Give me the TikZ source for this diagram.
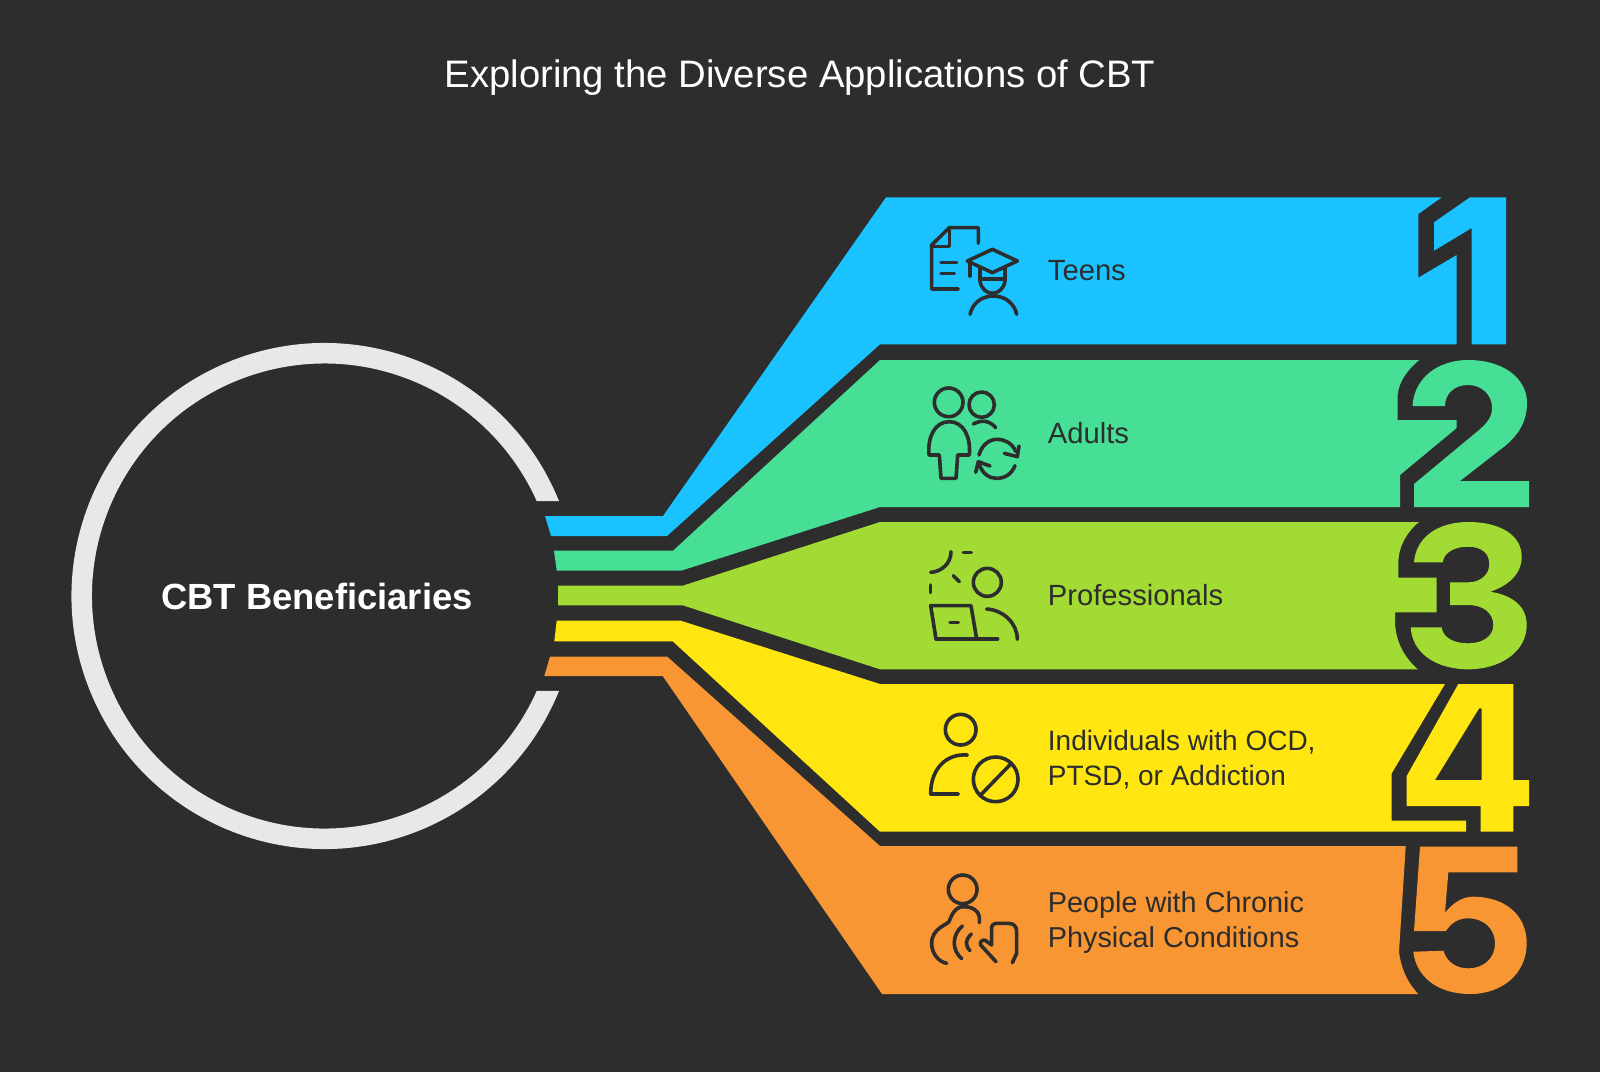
\documentclass[tikz,border=0pt]{standalone}
\usepackage{fontspec}
\setmainfont{Liberation Sans}
\definecolor{bg}{HTML}{2D2D2D}
\definecolor{ringc}{HTML}{E8E8E8}
\definecolor{cblue}{HTML}{1AC3FF}
\definecolor{cgreen}{HTML}{46DF95}
\definecolor{clime}{HTML}{A3DB35}
\definecolor{cyel}{HTML}{FFE610}
\definecolor{corg}{HTML}{F79632}
\tikzset{
  icon/.style={draw=bg,line width=1.8pt,line cap=round,line join=round},
  label/.style={text=bg,anchor=west,font=\fontsize{14.6}{17.4}\selectfont,align=left,inner sep=0pt},
  zoomed/.style={x=0.16667pt,y=-0.16667pt},
}
\begin{document}
\begin{tikzpicture}[x=0.5pt,y=-0.5pt]
\useasboundingbox (0,0) rectangle (1600,1072);
\fill[bg] (0,0) rectangle (1600,1072);

\node[text=white,font=\fontsize{19.15}{23}\selectfont,inner sep=0pt] (title) at (800,78) {Exploring the Diverse Applications of CBT};

% ring
\begin{scope}[shift={(324.5,596)},x=0.5pt,y=0.5pt]
\coordinate (ringc) at (0,0);
\fill[ringc] (22.05:253) arc (22.05:337.95:253) -- (335.9:232.5) arc (335.9:24.1:232.5) -- cycle;
\end{scope}
\node[text=white,font=\fontsize{18.2}{21}\bfseries\selectfont,inner sep=0pt] (cbt) at (317,596) {CBT Beneficiaries};

% band 1
\fill[cblue] (545,516) -- (663,516) -- (886,197.3) -- (1441.7,197.3) -- (1418.3,214) -- (1418.3,277.7) -- (1456.7,255) -- (1456.7,344.3) -- (880,344.3) -- (667,536) -- (551,536) -- cycle;
\fill[cblue] (1470,197.3) -- (1506,197.3) -- (1506,344.3) -- (1471.7,344.3) -- (1471.7,228) -- (1434,250.7) -- (1434,222.3) -- cycle;

% band 2
\fill[cgreen] (554,550.7) -- (673,550.7) -- (880,360) -- (1419.3,360) .. controls (1405,372) and (1397,385) .. (1397.5,400) -- (1397.5,420) -- (1456.7,420) -- (1456.7,428) -- (1400,475) -- (1400,507) -- (880,507) -- (681,570.7) -- (556.7,570.7) -- cycle;
\fill[cgreen] (1412.5,406) .. controls (1414,378) and (1438,360) .. (1468,360) .. controls (1503,360) and (1527,378) .. (1527,403) .. controls (1527,423) and (1517,436) .. (1505,446) -- (1460,481) -- (1529,481) -- (1529,507) -- (1414,507) -- (1414,484) -- (1479,430) .. controls (1487,423) and (1492,417) .. (1492,408) .. controls (1492,394) and (1481,385) .. (1468,385) .. controls (1454,385) and (1445,394) .. (1445,406) -- cycle;

% band 3
\fill[clime] (558,585.7) -- (682.7,585.7) -- (880,522) -- (1419,522) .. controls (1406,533) and (1398.3,547) .. (1398.3,563.3) -- (1398.3,577.7) -- (1436.7,577.7) -- (1436.7,612.3) -- (1395,612.3) -- (1395,623) .. controls (1396,642) and (1404,657) .. (1417.7,669.3) -- (880,669.3) -- (682.7,605.3) -- (558,605.3) -- cycle;
\fill[clime] (1414,562.3) .. controls (1416,537) and (1438,522) .. (1468.3,522) .. controls (1500,522) and (1521.7,535) .. (1521.7,556.7) .. controls (1521.7,574) and (1508,586) .. (1490,591.7) .. controls (1512,595) and (1526.7,606) .. (1526.7,625) .. controls (1526.7,652) and (1500,669.3) .. (1468.3,669.3) .. controls (1436,669.3) and (1412,653) .. (1410.7,627.3) -- (1441.7,627.3) .. controls (1443,638) and (1454,643.3) .. (1468.3,643.3) .. controls (1483,643.3) and (1493.3,636) .. (1493.3,625) .. controls (1493.3,613) and (1483,605) .. (1468.3,605) -- (1450,605) -- (1450,582.3) -- (1468.3,582.3) .. controls (1480,582.3) and (1489.3,575) .. (1489.3,564) .. controls (1489.3,553) and (1481,546.7) .. (1468.3,546.7) .. controls (1455,546.7) and (1444,552) .. (1442.7,562.3) -- cycle;

% band 4
\fill[cyel] (556.7,620.7) -- (680.7,620.7) -- (880,684) -- (1445,684) -- (1391.7,773.3) -- (1391.7,820.7) -- (1466,820.7) -- (1466,831.7) -- (880,831.7) -- (672.7,641.3) -- (554.3,641.3) -- cycle;
\fill[cyel,even odd rule] (1458.3,684) -- (1513.3,684) -- (1513.3,780) -- (1529,780) -- (1529,806) -- (1513.3,806) -- (1513.3,831.7) -- (1480.7,831.7) -- (1480.7,806) -- (1406.7,806) -- (1406.7,776) -- cycle
  (1479,708.5) -- (1481.7,708.3) -- (1481.7,780) -- (1435,780) -- cycle;

% band 5
\fill[corg] (550,656.7) -- (667.3,656.7) -- (880,846) -- (1405.7,846) -- (1399,951.7) .. controls (1401,968) and (1407,982) .. (1418.3,994) -- (882,994) -- (662.7,676) -- (544.3,676) -- cycle;
\fill[corg] (1420,846.7) -- (1517.3,846.7) -- (1517.3,872.3) -- (1448.3,872.3) -- (1445,912.7) .. controls (1453,903) and (1462,896.7) .. (1473,896.7) .. controls (1505,896.7) and (1526.7,915) .. (1526.7,943.3) .. controls (1526.7,973) and (1503,994) .. (1470,994) .. controls (1438,994) and (1416,977) .. (1413.3,951.7) -- (1443.3,950.7) .. controls (1447,962) and (1456,968.3) .. (1468.3,968.3) .. controls (1484,968.3) and (1495,958) .. (1495,943.3) .. controls (1495,929) and (1484,918.3) .. (1468.3,918.3) .. controls (1458,918.3) and (1451,923) .. (1446,931) -- (1414,931) -- cycle;

% labels
\node[label] (teens) at (1047.5,271) {Teens};
\node[label] (adults) at (1047.5,433) {Adults};
\node[label] (prof) at (1047.5,595) {Professionals};
\node[label,font=\fontsize{14}{17.4}\selectfont] (indiv) at (1047.5,759.5) {Individuals with OCD,\\PTSD, or Addiction};
\node[label,font=\fontsize{14.4}{17.4}\selectfont] (people) at (1047.5,922.5) {People with Chronic\\Physical Conditions};

% icon 1
\begin{scope}[shift={(910,210)},zoomed]
\draw[icon] (205,100) -- (205,53) -- (118,53) -- (65,105) -- (65,237) -- (145,237);
\draw[icon] (118,53) -- (118,110) -- (65,110);
\draw[icon] (93,157) -- (140,157) (93,190) -- (133,190);
\draw[icon] (172,153) -- (247,118) -- (322,153) -- (247,188) -- cycle;
\draw[icon] (180,153) -- (180,198);
\draw[icon] (210,175) -- (210,212) .. controls (212,235) and (230,250) .. (247,250) .. controls (265,250) and (283,235) .. (285,212) -- (285,175);
\draw[icon] (210,207) -- (285,207);
\draw[icon] (180,313) .. controls (187,280) and (215,258) .. (250,258) .. controls (285,258) and (313,280) .. (320,313);
% icon 2
\draw[icon] (116,577) circle[radius=43];
\draw[icon] (215,584) circle[radius=38];
\draw[icon] (190,642) .. controls (215,628) and (240,632) .. (257,653);
\draw[icon] (57,735) .. controls (52,680) and (75,635) .. (118,635) .. controls (160,635) and (183,680) .. (178,735) -- (143,735) -- (138,805) -- (93,805) -- (88,735) -- cycle;
\draw[icon] (207,735) .. controls (215,705) and (238,688) .. (260,688) .. controls (285,688) and (305,698) .. (318,725);
\draw[icon] (283,730) -- (322,740) -- (327,708);
\draw[icon] (315,767) .. controls (305,792) and (285,805) .. (260,805) .. controls (238,805) and (218,792) .. (207,762);
\draw[icon] (240,768) -- (205,755) -- (197,787);
\end{scope}

% icon 3, 4
\begin{scope}[shift={(910,535)},zoomed]
\draw[icon] (123,50) .. controls (123,85) and (95,110) .. (62,112);
\draw[icon] (160,52) -- (184,52);
\draw[icon] (130,122) -- (148,140);
\draw[icon] (62,150) -- (62,173);
\draw[icon] (232,142) circle[radius=42];
\draw[icon] (78,312) -- (62,212) -- (183,212) -- (200,312);
\draw[icon] (78,312) -- (263,312);
\draw[icon] (120,262) -- (145,262);
\draw[icon] (230,222) .. controls (280,225) and (322,265) .. (322,313);
\draw[icon] (152,584) circle[radius=46];
\draw[icon] (172,660) .. controls (110,655) and (62,700) .. (62,777) -- (145,777);
\draw[icon] (257,733) circle[radius=67];
\draw[icon] (210,782) -- (303,686);
\end{scope}

% icon 5
\begin{scope}[shift={(910,860)},zoomed]
\draw[icon] (158,88) circle[radius=43];
\draw[icon] (208,188) -- (208,170) .. controls (205,150) and (185,140) .. (160,140) .. controls (135,140) and (125,165) .. (117,185) .. controls (110,195) and (65,205) .. (65,250) .. controls (65,280) and (85,305) .. (110,310);
\draw[icon] (157,198) .. controls (125,225) and (125,270) .. (155,296);
\draw[icon] (184,222) .. controls (165,240) and (165,255) .. (180,272);
\draw[icon] (258,305) -- (212,255) .. controls (208,245) and (218,238) .. (226,241) -- (245,255) -- (245,205) .. controls (245,195) and (250,190) .. (258,190) -- (295,190) .. controls (312,190) and (320,200) .. (320,215) -- (320,280) -- (307,308);
\end{scope}
\end{tikzpicture}
\end{document}
